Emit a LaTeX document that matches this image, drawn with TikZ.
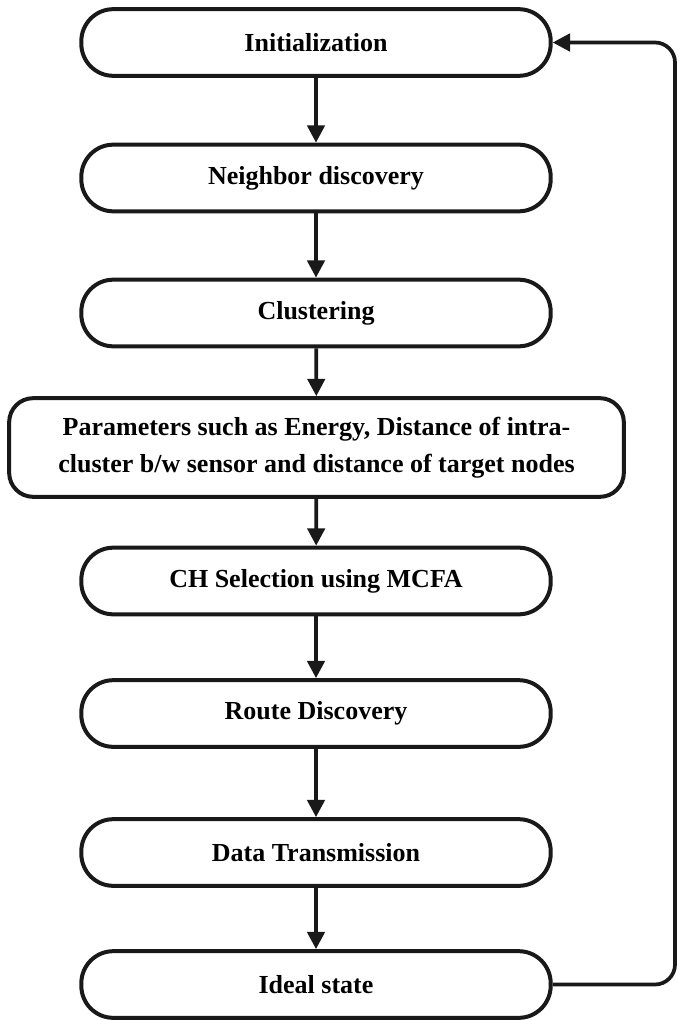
\documentclass[tikz,border=0pt]{standalone}
\usepackage{fontspec}
\setmainfont{Liberation Serif}
\usetikzlibrary{arrows.meta}
\begin{document}
\begin{tikzpicture}[x=0.75pt,y=-0.75pt,
  stage/.style={draw=black!90, line width=3pt, rounded corners=24pt, fill=white,
    minimum width=352pt, minimum height=50pt, inner sep=0pt,
    align=center, font=\bfseries\fontsize{19.5}{27.5}\selectfont},
  widestage/.style={stage, rounded corners=18pt, minimum width=461pt, minimum height=74pt},
  flow/.style={draw=black!90, line width=2.8pt, -{Triangle[length=13pt,width=13pt]}}]
\useasboundingbox (0,0) rectangle (678,1020);

% process stages, top to bottom
\node[stage] (init)  at (316,42.5)  {Initialization};
\node[stage] (nb)    at (316,178)   {Neighbor discovery};
\node[stage] (clu)   at (316,313)   {Clustering};
\node[widestage] (par) at (316.5,447.5) {Parameters such as Energy, Distance of intra-\\cluster b/w sensor and distance of target nodes};
\node[stage] (ch)    at (316,581)   {CH Selection using MCFA};
\node[stage] (route) at (316,713.5) {Route Discovery};
\node[stage] (data)  at (316,852.5) {Data Transmission};
\node[stage] (ideal) at (316,984.5) {Ideal state};

% forward flow
\draw[flow] (init) -- (nb);
\draw[flow] (nb) -- (clu);
\draw[flow] (clu) -- (par);
\draw[flow] (par) -- (ch);
\draw[flow] (ch) -- (route);
\draw[flow] (route) -- (data);
\draw[flow] (data) -- (ideal);

% feedback loop from the idle state back to initialization
\coordinate (loop) at (675,500);
\draw[flow, rounded corners=15pt] (ideal.east) -- (ideal.east -| loop) -- (init.east -| loop) -- (init.east);
\end{tikzpicture}
\end{document}
